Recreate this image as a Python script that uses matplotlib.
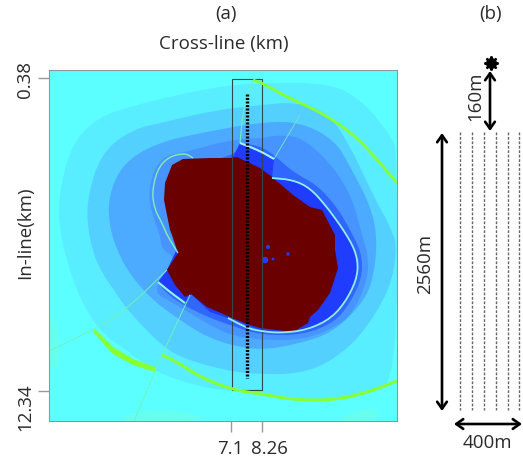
import matplotlib.pyplot as plt
from matplotlib.patches import Polygon as Pol

plt.rcParams["font.family"] = ["Open Sans", "DejaVu Sans"]

# outlines, in image pixels
band_1 = [(397, 152), (392, 137), (362, 100), (329, 83), (262, 83), (233, 85), (200, 90), (143, 103),
          (97, 117), (70, 147), (58, 200), (60, 232), (68, 265), (80, 299), (100, 332), (133, 355),
          (155, 372), (200, 387), (233, 391), (262, 394), (295, 400), (335, 400), (369, 392), (397, 380)]
band_2 = [(397, 249), (392, 230), (373, 195), (352, 150), (329, 113), (295, 102), (262, 105), (217, 110),
          (173, 120), (130, 130), (100, 155), (87, 200), (88, 232), (97, 265), (117, 295), (130, 313),
          (163, 347), (187, 360), (233, 372), (262, 374), (295, 374), (325, 365), (359, 339), (390, 290)]
band_3 = [(377, 235), (370, 205), (352, 170), (335, 140), (300, 122), (262, 122), (200, 133), (157, 143),
          (123, 163), (108, 197), (110, 232), (125, 268), (150, 298), (177, 318), (203, 335), (230, 345),
          (260, 350), (293, 345), (333, 333), (367, 298), (375, 268)]
band_4 = [(362, 235), (352, 197), (332, 165), (303, 138), (280, 135), (262, 138), (230, 140), (185, 152),
          (167, 155), (155, 167), (148, 193), (153, 217), (160, 235), (162, 250), (175, 257), (167, 270),
          (153, 292), (173, 303), (185, 310), (210, 325), (230, 335), (260, 340), (303, 340), (340, 325),
          (355, 309), (368, 278), (368, 255)]
band_5 = [(353, 235), (362, 255), (362, 278), (350, 303), (335, 322), (303, 335), (260, 335), (230, 325),
          (210, 318), (185, 306), (170, 296), (158, 284), (167, 272), (178, 253), (172, 235), (164, 200),
          (172, 165), (233, 157), (240, 143), (260, 146), (274, 155), (293, 172), (317, 185), (337, 207)]
deep = [(233, 157), (240, 143), (260, 150), (274, 159), (272, 178), (293, 180), (310, 188), (327, 207),
        (347, 235), (357, 255), (358, 275), (348, 298), (332, 318), (307, 330), (280, 333), (260, 330),
        (228, 318), (210, 312), (191, 294), (185, 303), (170, 292), (158, 282), (167, 270), (200, 200)]
blob = [(172, 165), (183, 159), (210, 158), (230, 158), (237, 157), (260, 168), (272, 177), (293, 195),
        (310, 207), (322, 210), (335, 235), (335, 250), (338, 268), (330, 293), (318, 310), (310, 317),
        (308, 323), (293, 332), (260, 328), (247, 324), (230, 317), (207, 307), (191, 294), (185, 297),
        (175, 285), (167, 270), (178, 253), (172, 235), (170, 230), (164, 200), (165, 183)]
speck_x = [268, 265, 273, 288]
speck_y = [247, 260, 259, 254]
speck_size = [9, 22, 4, 6]

green_upper = [(253, 80), (262, 83), (289, 98), (322, 113), (352, 133), (375, 157), (397, 183)]
green_left = [(95, 329), (113, 347), (133, 359), (155, 367), (155, 372), (133, 365), (113, 354), (93, 332)]
green_low = [(162, 355), (177, 362), (200, 377), (233, 390), (262, 394), (295, 400), (335, 400), (369, 392), (397, 381)]
thin_1 = [(49, 351), (93, 330), (127, 309), (167, 270)]
thin_2 = [(134, 421), (162, 355), (190, 295)]
thin_3 = [(300, 115), (274, 159)]
thin_4 = [(253, 80), (243, 110), (240, 143)]
thin_5 = [(193, 158), (185, 153), (168, 157), (157, 170), (152, 193), (155, 210), (162, 223), (167, 235), (178, 253)]
pale_1 = [(240, 143), (260, 151), (274, 159)]
pale_2 = [(158, 282), (170, 292), (185, 303)]
pale_3 = [(228, 318), (247, 328), (260, 331), (280, 333), (307, 330), (332, 318), (348, 298), (358, 275), (357, 255),
          (347, 235), (327, 207), (310, 188), (293, 180), (272, 178)]
corner_1 = [(110, 421), (145, 410), (185, 412), (215, 421)]
corner_2 = [(330, 421), (375, 405), (381, 421)]
corner_3 = [(49, 310), (58, 325), (60, 365), (49, 372)]

map_ticks_x = [231, 262]
map_ticks_y = [78, 391]
map_labels_x = ["7.1", "8.26"]
receiver_x = [460, 472, 484, 496, 508, 519]


def smooth(points, closed=True, passes=2):
    # corner cutting, the picture's contours have no kinks
    for _ in range(passes):
        out = []
        n = len(points)
        for i in range(n if closed else n - 1):
            x0, y0 = points[i]
            x1, y1 = points[(i + 1) % n]
            out.append((0.75 * x0 + 0.25 * x1, 0.75 * y0 + 0.25 * y1))
            out.append((0.25 * x0 + 0.75 * x1, 0.25 * y0 + 0.75 * y1))
        if not closed:
            out = [points[0]] + out + [points[-1]]
        points = out
    return points


fig = plt.figure(figsize=(5.23, 4.63), dpi=100)

# overlay in pixel coordinates for panel (b) and the texts
over = fig.add_axes([0, 0, 1, 1], zorder=3)
over.set_xlim(0, 523)
over.set_ylim(463, 0)
over.axis("off")

ax = fig.add_axes([49 / 523, 1 - 421 / 463, 348 / 523, 351 / 463], zorder=2)
ax.set_xlim(49, 397)
ax.set_ylim(421, 70)
ax.set_facecolor("#5cffff")

for pts, col in [(corner_1, "#66ffee"), (corner_2, "#66ffee"), (corner_3, "#66ffee"),
                 (band_1, "#58eeff"), (band_2, "#54d0ff"), (band_3, "#4caaff"),
                 (band_4, "#4794ff"), (band_5, "#3068ff")]:
    ax.add_patch(Pol(smooth(pts), closed=True, facecolor=col, edgecolor="none"))
ax.add_patch(Pol(deep, closed=True, facecolor="#1f3cff", edgecolor="none"))
ax.add_patch(Pol(blob, closed=True, facecolor="#6b0000", edgecolor="none"))
ax.add_patch(Pol(green_left, closed=True, facecolor="#88ff33", edgecolor="none"))

for pts, col, lw in [(thin_1, "#70f0c0", 0.7), (thin_2, "#70f0c0", 0.7), (thin_3, "#70e0d0", 0.7),
                     (thin_4, "#70f0c0", 0.8), (thin_5, "#80f0b0", 1.0), (pale_1, "#a0f4ff", 1.5),
                     (pale_2, "#90f8e0", 1.5), (pale_3, "#90f0e8", 1.3),
                     (green_upper, "#88ff33", 2.0), (green_low, "#88ff33", 2.2)]:
    ax.plot(*zip(*smooth(pts, closed=False)), color=col, lw=lw, solid_capstyle="butt")

ax.scatter(speck_x, speck_y, s=speck_size, color="#1f3cff", linewidths=0)

# survey box and receiver line
ax.add_patch(plt.Rectangle((232, 79), 30, 311, fill=False, edgecolor="#304848", lw=0.8))
ax.plot([247, 247], [94, 378], color="black", lw=2.4, ls=(0, (0.6, 0.45)))

for s in ax.spines.values():
    s.set_color("#8a9a9a")
ax.set_xticks(map_ticks_x)
ax.set_xticklabels([])
ax.set_yticks(map_ticks_y)
ax.set_yticklabels([])
ax.tick_params(length=8, width=1, color="#999999")

# panel (b)
for x in receiver_x:
    over.plot([x, x], [132, 410], color="#666666", lw=1.0, ls=(0, (2, 1.2)))
arrow = dict(arrowstyle="<->,head_length=0.5,head_width=0.35", color="black", lw=1.9, shrinkA=0, shrinkB=0)
over.annotate("", xy=(442, 133), xytext=(442, 411), arrowprops=arrow)
over.annotate("", xy=(490, 71), xytext=(490, 131), arrowprops=arrow)
over.annotate("", xy=(454, 424), xytext=(522, 424), arrowprops=arrow)
over.plot([491], [63], marker=(8, 2, 0), color="black", ms=10, mew=1.6)
over.plot([491], [63], marker="o", color="black", ms=7)

txt = dict(color="#2a2a2a", fontsize=13.5, ha="center", va="center")
over.text(226, 14, "(a)", **txt)
over.text(491, 14, "(b)", **txt)
over.text(224, 44, "Cross-line (km)", **txt)
over.text(25, 233, "In-line(km)", rotation=90, **txt)
over.text(25, 80, "0.38", rotation=90, **txt)
over.text(25, 407, "12.34", rotation=90, **txt)
over.text(230, 449, map_labels_x[0], **txt)
over.text(269, 449, map_labels_x[1], **txt)
over.text(425, 264, "2560m", rotation=90, **txt)
over.text(475, 96, "160m", rotation=90, **txt)
over.text(487, 443, "400m", **txt)

fig.savefig("out.png", dpi=100)
